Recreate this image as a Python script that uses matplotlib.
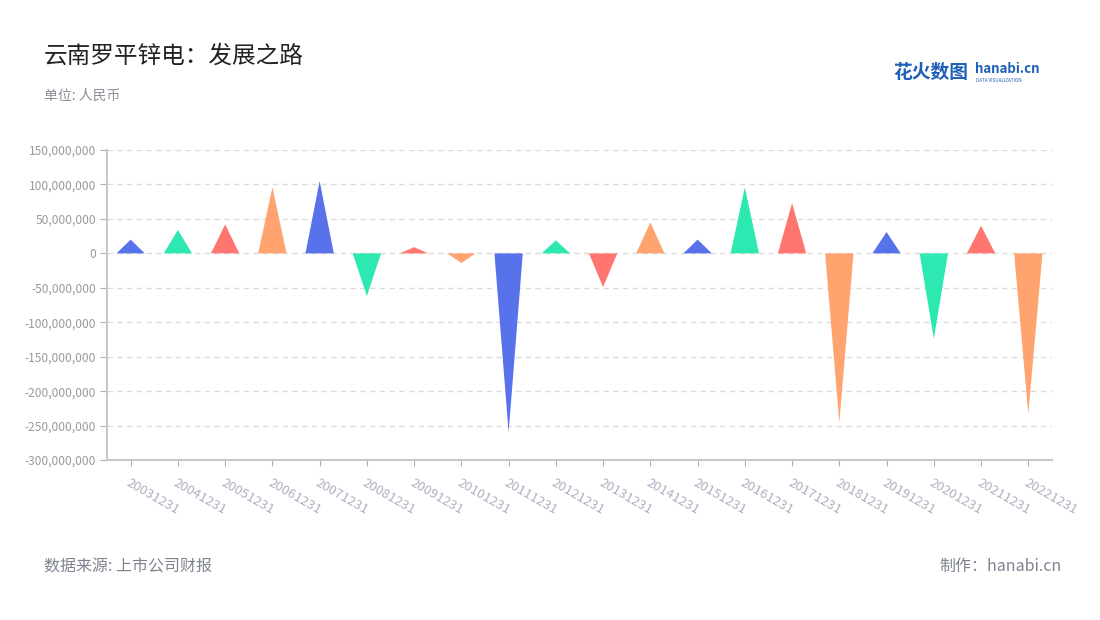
import matplotlib
matplotlib.use("Agg")
import matplotlib.pyplot as plt
from matplotlib.ticker import FuncFormatter, MultipleLocator

plt.rcParams["font.family"] = ["Noto Sans CJK SC", "DejaVu Sans"]

# 报告期
dates = [
    "20031231", "20041231", "20051231", "20061231", "20071231",
    "20081231", "20091231", "20101231", "20111231", "20121231",
    "20131231", "20141231", "20151231", "20161231", "20171231",
    "20181231", "20191231", "20201231", "20211231", "20221231",
]
# 数值 (人民币)
values = [
    20e6, 34e6, 42e6, 96e6, 105e6,
    -62e6, 9e6, -14e6, -260e6, 19e6,
    -49e6, 45e6, 20e6, 96e6, 73e6,
    -246e6, 31e6, -124e6, 40e6, -233e6,
]
palette = ["#5872ec", "#2de8b0", "#ff7670", "#ffa36f"]

fig = plt.figure(figsize=(11, 6.2), dpi=100)
ax = fig.add_axes([0.0973, 0.258, 0.859, 0.5])

half = 0.3
for i, v in enumerate(values):
    ax.fill([i - half, i + half, i], [0, 0, v],
            color=palette[i % len(palette)], linewidth=0, zorder=3)

ax.set_xlim(-0.5, len(dates) - 0.5)
ax.set_ylim(-300e6, 150e6)
ax.yaxis.set_major_locator(MultipleLocator(50e6))
ax.yaxis.set_major_formatter(FuncFormatter(lambda v, p: f"{int(round(v)):,}"))
ax.set_xticks(range(len(dates)))
ax.set_xticklabels(dates, rotation=-30, ha="left", va="top",
                   rotation_mode="anchor", color="#aeb1c0", fontsize=9.5)
ax.tick_params(axis="x", length=4, color="#b0b0b0", pad=8)
ax.tick_params(axis="y", length=5, color="#b0b0b0", labelcolor="#9a9a9a",
               labelsize=8.6, pad=3)

ax.grid(axis="y", linestyle=(0, (4, 3)), color="#dcdcdc", linewidth=1, zorder=0)
for s in ["top", "right"]:
    ax.spines[s].set_visible(False)
for s in ["left", "bottom"]:
    ax.spines[s].set_color("#c8c8c8")
    ax.spines[s].set_linewidth(1.5)

fig.text(0.04, 0.91, "云南罗平锌电：发展之路", fontsize=17, color="#222222",
         va="center")
fig.text(0.04, 0.845, "单位: 人民币", fontsize=10, color="#8c8f99", va="center")
fig.text(0.04, 0.086, "数据来源: 上市公司财报", fontsize=11.5, color="#7f8290",
         va="center")
fig.text(0.965, 0.086, "制作：hanabi.cn", fontsize=11.5, color="#7f8290",
         va="center", ha="right")

# logo
fig.text(0.812, 0.883, "花火数图", fontsize=13.5, color="#1f5fb8",
         fontweight="bold", va="center")
fig.text(0.886, 0.888, "hanabi.cn", fontsize=9.5, color="#1f5fb8",
         fontweight="bold", va="center")
fig.text(0.887, 0.87, "DATA VISUALIZATION", fontsize=3.3, color="#1f5fb8",
         va="center")

fig.savefig("out.png", dpi=100, facecolor="white")
